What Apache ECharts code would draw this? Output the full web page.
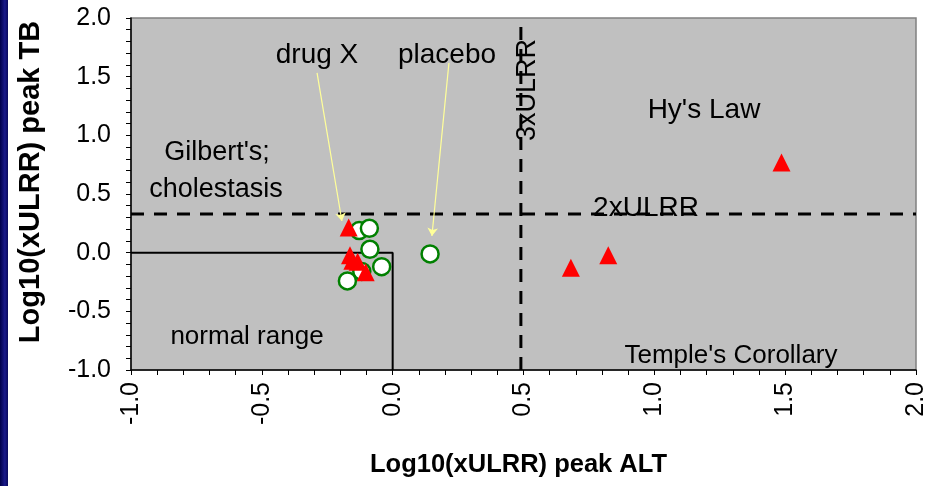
<!DOCTYPE html>
<html>
<head>
<meta charset="utf-8">
<script src="https://cdn.jsdelivr.net/npm/echarts@6/dist/echarts.min.js"></script>
<style>
html,body{margin:0;padding:0;background:#fff;}
#main{width:929px;height:486px;}
</style>
</head>
<body>
<div id="main"></div>
<script>
// ---- data ----
var xTicks = [-1.0, -0.5, 0.0, 0.5, 1.0, 1.5, 2.0];
var yTicks = [-1.0, -0.5, 0.0, 0.5, 1.0, 1.5, 2.0];
var drugX = [[-0.168,0.215],[-0.163,-0.022],[-0.154,-0.068],[-0.134,-0.077],[-0.103,-0.167],[0.681,-0.129],[0.824,-0.022],[1.486,0.769]];
var placebo = [[-0.128,0.188],[-0.089,0.208],[-0.087,0.029],[-0.042,-0.119],[-0.118,-0.160],[-0.173,-0.241],[0.143,-0.011]];
var tbLimit = 0.33;   // 2xULRR
var altLimit = 0.49;  // 3xULRR
var normalBox = [[-1,0],[0,0],[0,-1]];
var arrowDrug = [[-0.289,1.532],[-0.194,0.270]];
var arrowPlacebo = [[0.215,1.617],[0.150,0.142]];

var FONT = "'Liberation Sans', Arial, sans-serif";
var chart = echarts.init(document.getElementById('main'), null, {renderer:'canvas'});

function txt(t, x, y, opts) {
  opts = opts || {};
  return {
    type: 'text', x: x, y: y, rotation: opts.rotation || 0, silent: true, z: 50,
    style: {
      text: t, fill: '#000', font: (opts.size || 27) + 'px ' + FONT,
      align: 'center', verticalAlign: 'middle'
    }
  };
}

var option = {
  backgroundColor: '#fff',
  animation: false,
  grid: {
    left: 131, right: 13, top: 18, bottom: 116,
    show: true, backgroundColor: '#C0C0C0', borderColor: '#808080', borderWidth: 1.5
  },
  xAxis: {
    type: 'value', min: xTicks[0], max: xTicks[xTicks.length-1], interval: 0.5,
    name: 'Log10(xULRR) peak ALT', nameLocation: 'middle', nameGap: 82,
    nameTextStyle: { fontFamily: FONT, fontWeight: 'bold', fontSize: 25.5, color: '#000', padding: [0,10,0,0] },
    axisLine: { show: true, onZero: false, lineStyle: { color: '#000', width: 1.5 } },
    axisTick: { show: true, inside: false, length: 5, lineStyle: { color: '#000', width: 1 } },
    minorTick: { show: true, splitNumber: 5, length: 5, lineStyle: { color: '#000', width: 1 } },
    splitLine: { show: false },
    axisLabel: { rotate: 90, margin: 12, fontFamily: FONT, fontSize: 25, color: '#000',
      formatter: function (v) { return v.toFixed(1); } }
  },
  yAxis: {
    type: 'value', min: yTicks[0], max: yTicks[yTicks.length-1], interval: 0.5,
    name: 'Log10(xULRR) peak TB', nameLocation: 'middle', nameGap: 86,
    nameTextStyle: { fontFamily: FONT, fontWeight: 'bold', fontSize: 29, color: '#000', padding: [0,0,0,24] },
    axisLine: { show: true, onZero: false, lineStyle: { color: '#000', width: 1.5 } },
    axisTick: { show: true, inside: false, length: 5, lineStyle: { color: '#000', width: 1 } },
    minorTick: { show: true, splitNumber: 5, length: 5, lineStyle: { color: '#000', width: 1 } },
    splitLine: { show: false },
    axisLabel: { margin: 20, fontFamily: FONT, fontSize: 25, color: '#000',
      formatter: function (v) { return v.toFixed(1); } }
  },
  graphic: [
    { type: 'rect', shape: { x: 0, y: 0, width: 8, height: 486 }, silent: true,
      style: { fill: new echarts.graphic.LinearGradient(0,0,1,0,[{offset:0,color:'#00004a'},{offset:0.6,color:'#1a1a8a'},{offset:1,color:'#0a0a5c'}]) } },
    txt('drug X', 317, 55, {size: 28}),
    txt('placebo', 447, 55, {size: 28}),
    txt("Hy's Law", 704, 110, {size: 28}),
    txt("Gilbert's;", 217, 153, {size: 27}),
    txt('cholestasis', 216, 190, {size: 27}),
    txt('2xULRR', 646, 208, {size: 28}),
    txt('3xULRR', 528, 90, {size: 27, rotation: Math.PI/2}),
    txt('normal range', 247, 337, {size: 26}),
    txt("Temple's Corollary", 731, 356, {size: 26})
  ],
  series: [
    { type: 'line', data: [[xTicks[0], tbLimit],[xTicks[xTicks.length-1], tbLimit]], symbol: 'none', silent: true, z: 1,
      lineStyle: { color: '#000', width: 3, type: [13, 10] } },
    { type: 'line', data: [[altLimit, yTicks[0]],[altLimit, yTicks[yTicks.length-1]]], symbol: 'none', silent: true, z: 1,
      lineStyle: { color: '#000', width: 3, type: [13, 9] } },
    { type: 'line', data: normalBox, symbol: 'none', silent: true, z: 1,
      lineStyle: { color: '#000', width: 2, type: 'solid' } },
    { type: 'lines', coordinateSystem: 'cartesian2d', silent: true, z: 3,
      symbol: ['none', 'arrow'], symbolSize: 8,
      lineStyle: { color: '#FFFF99', width: 1.2, opacity: 1, curveness: 0 },
      data: [ { coords: arrowDrug }, { coords: arrowPlacebo } ] },
    { name: 'placebo', type: 'scatter', data: placebo, symbol: 'circle', symbolSize: 17, z: 4,
      itemStyle: { color: '#fff', borderColor: '#008000', borderWidth: 2.5, opacity: 1 } },
    { name: 'drug X', type: 'scatter', data: drugX, symbol: 'triangle', symbolSize: 18, z: 5,
      itemStyle: { color: '#FF0000', opacity: 1 } }
  ]
};
chart.setOption(option);
</script>
</body>
</html>
